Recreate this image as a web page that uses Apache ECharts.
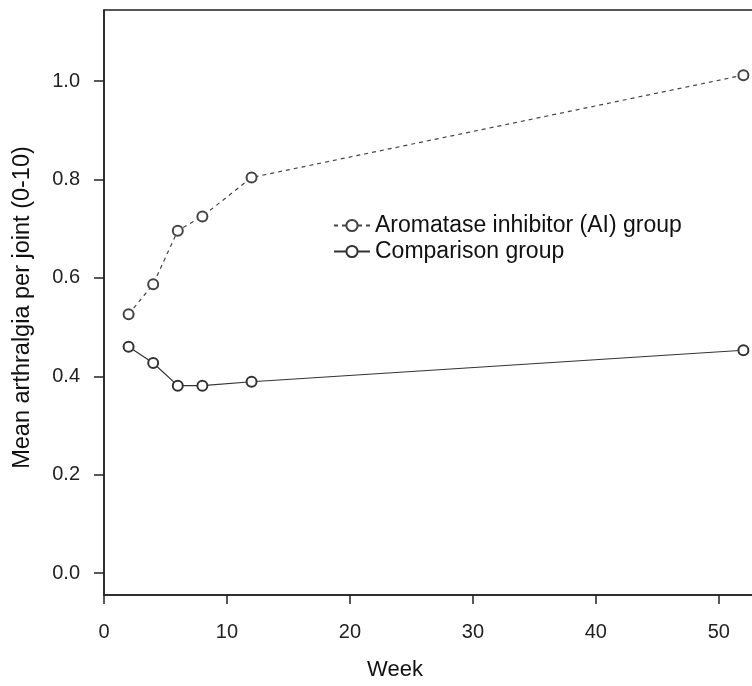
<!DOCTYPE html>
<html>
<head>
<meta charset="utf-8">
<script src="https://cdn.jsdelivr.net/npm/echarts@6/dist/echarts.min.js"></script>
<style>
  html, body { margin: 0; padding: 0; background: #fff; overflow: hidden; }
  #chart { width: 752px; height: 686px; }
</style>
</head>
<body>
<div id="chart"></div>
<script>
// data
var weeks = [2, 4, 6, 8, 12, 52];
var aiGroup = [0.526, 0.587, 0.696, 0.725, 0.804, 1.012];
var comparisonGroup = [0.460, 0.427, 0.381, 0.381, 0.389, 0.453];
var seriesNames = ['Aromatase inhibitor (AI) group', 'Comparison group'];
var yTicks = [0, 0.2, 0.4, 0.6, 0.8, 1.0];
var xTicks = [0, 10, 20, 30, 40, 50];

function pairs(xs, ys) {
  return xs.map(function (x, i) { return [x, ys[i]]; });
}

var font = 'Liberation Sans, Arial, sans-serif';
var myChart = echarts.init(document.getElementById('chart'));

var option = {
  animation: false,
  backgroundColor: '#fff',
  textStyle: { fontFamily: font },
  grid: {
    left: 104, top: 10, width: 664, height: 585,
    outerBoundsMode: 'none', containLabel: false,
    show: true, borderColor: '#222', borderWidth: 1.5, backgroundColor: 'transparent'
  },
  legend: {
    orient: 'vertical',
    left: 328, top: 209,
    itemGap: 3,
    itemWidth: 36, itemHeight: 14,
    textStyle: { fontSize: 23, color: '#111', fontFamily: font },
    data: seriesNames
  },
  xAxis: {
    type: 'value',
    min: 0, max: 54,
    axisLine: { show: true, onZero: false, lineStyle: { color: '#222', width: 1.5 } },
    axisTick: { show: true, length: 9, lineStyle: { color: '#222', width: 1.5 }, customValues: xTicks },
    axisLabel: { fontSize: 20, color: '#222', margin: 27, customValues: xTicks },
    splitLine: { show: false },
    name: 'Week', nameLocation: 'middle', nameGap: 64,
    // the title sits left of the plot centre in the source figure
    nameTextStyle: { fontSize: 22, color: '#111', padding: [0, 82, 0, 0] }
  },
  yAxis: {
    type: 'value',
    min: -0.0444, max: 1.1444,
    axisLine: { show: true, onZero: false, lineStyle: { color: '#222', width: 1.5 } },
    axisTick: { show: true, length: 10, lineStyle: { color: '#222', width: 1.5 }, customValues: yTicks },
    axisLabel: { fontSize: 20, color: '#222', margin: 24, customValues: yTicks,
      formatter: function (v) { return v.toFixed(1); } },
    splitLine: { show: false },
    name: 'Mean arthralgia per joint (0-10)', nameLocation: 'middle', nameGap: 69,
    nameTextStyle: { fontSize: 23.5, color: '#111', padding: [0, 10, 0, 0] }
  },
  series: [
    {
      name: seriesNames[0],
      type: 'line',
      data: pairs(weeks, aiGroup),
      symbol: 'emptyCircle', symbolSize: 10,
      lineStyle: { color: '#444', width: 1.2, type: [4, 4] },
      itemStyle: { color: '#444', borderColor: '#444', borderWidth: 1.1 }
    },
    {
      name: seriesNames[1],
      type: 'line',
      data: pairs(weeks, comparisonGroup),
      symbol: 'emptyCircle', symbolSize: 10,
      lineStyle: { color: '#333', width: 1.2, type: 'solid' },
      itemStyle: { color: '#333', borderColor: '#333', borderWidth: 1.1 }
    }
  ]
};

myChart.setOption(option);
</script>
</body>
</html>
